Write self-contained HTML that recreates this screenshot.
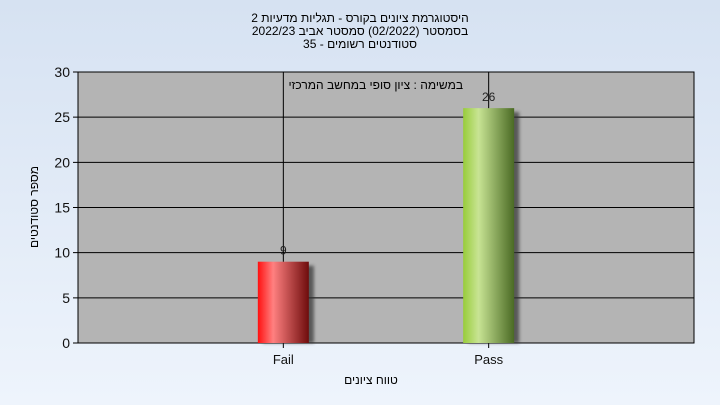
<!DOCTYPE html>
<html><head><meta charset="utf-8"><style>
body{margin:0;width:720px;height:405px;overflow:hidden;background:linear-gradient(#d6e2f2,#eef4fc);font-family:"Liberation Sans",sans-serif;}
svg{display:block}
</style></head><body>
<svg width="720" height="405" xmlns="http://www.w3.org/2000/svg">
<defs>
<linearGradient id="gRed" x1="0" x2="1"><stop offset="0" stop-color="#ff1010"/><stop offset="0.3" stop-color="#ff8080"/><stop offset="1" stop-color="#6e0c0c"/></linearGradient>
<linearGradient id="gGreen" x1="0" x2="1"><stop offset="0" stop-color="#98cc3a"/><stop offset="0.3" stop-color="#c8e494"/><stop offset="1" stop-color="#4a6a24"/></linearGradient>
<filter id="sh" x="-20%" y="-5%" width="150%" height="120%"><feGaussianBlur stdDeviation="1.5"/></filter>
</defs>
<g font-size="12" fill="#000" text-anchor="middle" style="font-family:'Liberation Sans','DejaVu Sans',sans-serif">
<text x="360" y="22">היסטוגרמת ציונים בקורס - תגליות מדעיות 2</text>
<text x="360" y="35">בסמסטר  (02/2022)  סמסטר אביב 2022/23</text>
<text x="360" y="48">סטודנטים רשומים - 35</text>
</g>
<rect x="78" y="72" width="616" height="271" fill="#b4b4b4" stroke="#000"/>
<g id="grid"></g>
<g id="bars"></g>
<text x="463" y="89" font-size="12" text-anchor="end" style="font-family:'Liberation Sans','DejaVu Sans',sans-serif">במשימה : ציון סופי במחשב המרכזי</text>
<text x="371" y="384" font-size="12" text-anchor="middle" style="font-family:'Liberation Sans','DejaVu Sans',sans-serif">טווח ציונים</text>
<text transform="translate(38,207) rotate(-90)" font-size="12" text-anchor="middle" direction="rtl" style="font-family:'Liberation Sans','DejaVu Sans',sans-serif">מספר סטודנטים</text>
</svg>
<script>
const categories = ["Fail", "Pass"];
const values = [9, 26];
const yTicks = [0, 5, 10, 15, 20, 25, 30];
const colors = ["url(#gRed)", "url(#gGreen)"];
const NS = "http://www.w3.org/2000/svg";
const x0 = 78, x1 = 694, y0 = 343, y1 = 72, yMax = 30;
const y = v => y0 - (v / yMax) * (y0 - y1);
const x = i => x0 + (i + 1) * (x1 - x0) / (categories.length + 1);
function mk(tag, attrs, parent) { const e = document.createElementNS(NS, tag); for (const k in attrs) e.setAttribute(k, attrs[k]); parent.appendChild(e); return e; }
const grid = document.getElementById('grid');
yTicks.forEach(t => {
  const l = mk('line', {x1: x0 - 5, x2: x1, y1: y(t), y2: y(t), stroke: '#000'}, grid);
  
  
  const tx = mk('text', {x: x0 - 8, y: y(t) + 5, 'font-size': 14, 'text-anchor': 'end', fill: '#111'}, grid);
  tx.textContent = t;
  
  
});
const bars = document.getElementById('bars');
categories.forEach((c, i) => {
  const cx = x(i);
  const vl = mk('line', {x1: cx, x2: cx, y1: y1, y2: y0 + 5, stroke: '#000'}, grid);
  
  
  const w = 51;
  mk('rect', {x: cx - w / 2 + 5, y: y(values[i]) + 4, width: w, height: y0 - y(values[i]) - 4, fill: '#333', opacity: 0.7, filter: 'url(#sh)'}, bars);
  const r = mk('rect', {x: cx - w / 2, y: y(values[i]), width: w, height: y0 - y(values[i]), fill: colors[i]}, bars);
  
  
  const vt = mk('text', {x: cx, y: y(values[i]) - 7, 'font-size': 12, 'text-anchor': 'middle', fill: '#222'}, bars);
  vt.textContent = values[i];
  
  
  const ct = mk('text', {x: cx, y: y0 + 21, 'font-size': 13, 'text-anchor': 'middle', fill: '#111'}, bars);
  ct.textContent = c;
  
  
});
</script>
</body></html>
